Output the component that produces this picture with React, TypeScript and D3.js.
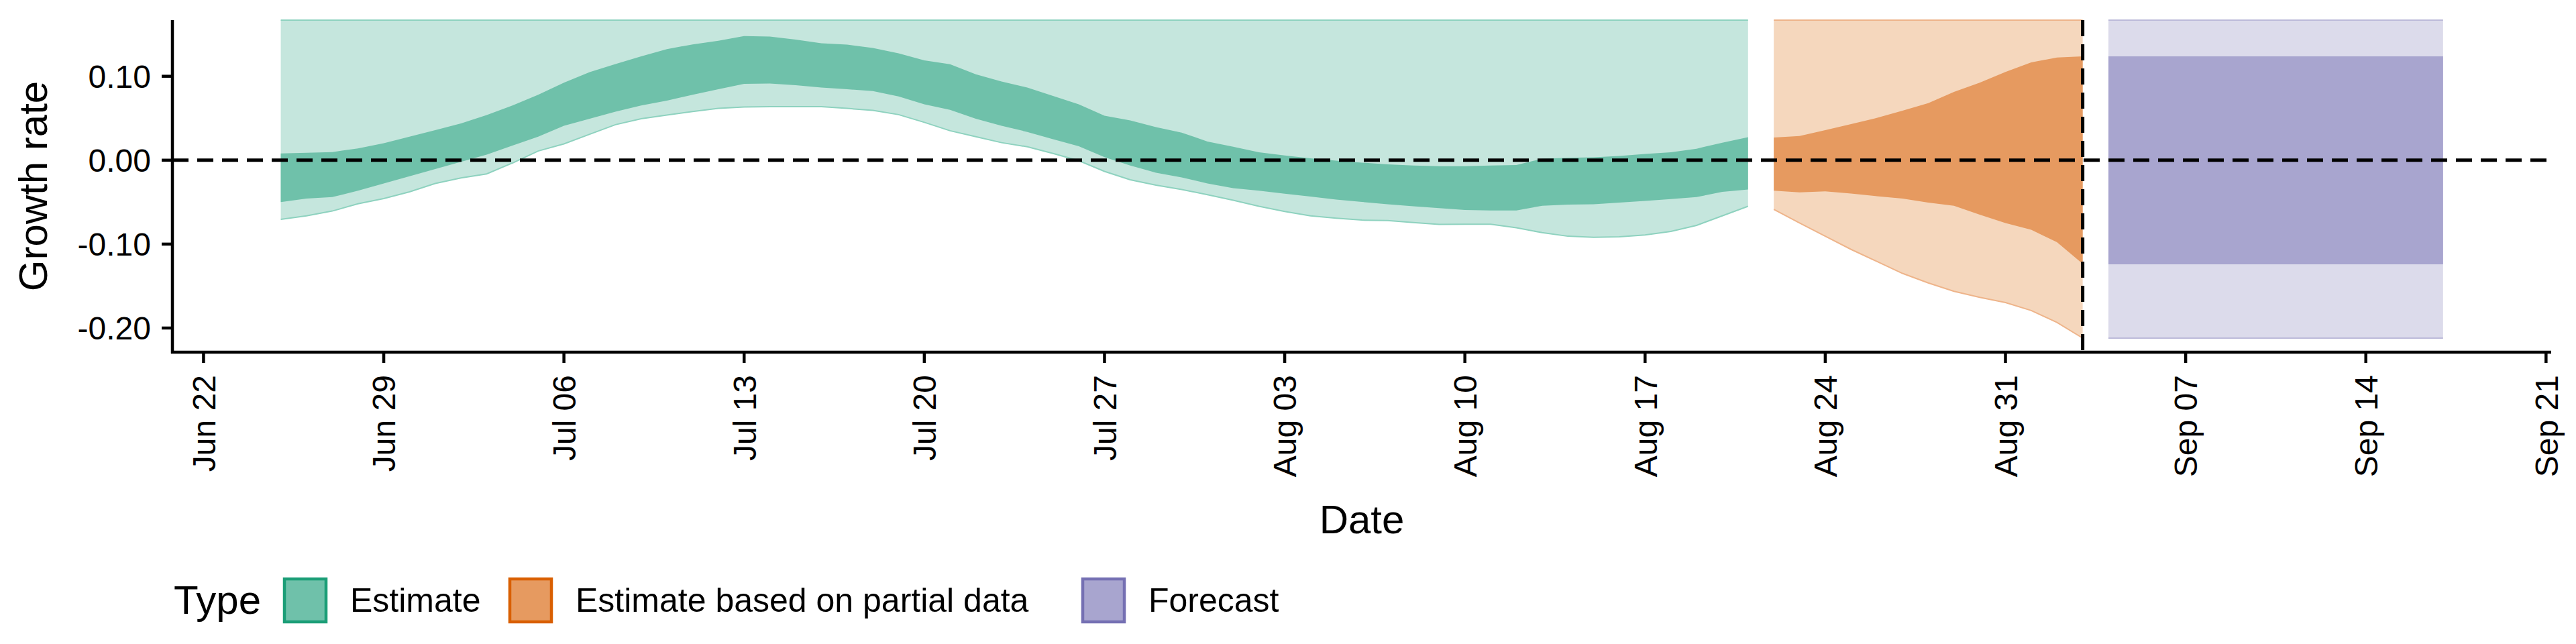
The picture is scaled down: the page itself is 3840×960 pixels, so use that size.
import React from "react";
import * as d3 from "d3";

// Days counted from 2020-06-22
const estDays = d3.range(3, 61);
const estInnerUpper = [.008,.0089,.0097,.014,.0203,.028,.0357,.0437,.0537,.0651,.078,.0923,.105,.1146,.1237,.1323,.138,.1423,.148,.1474,.1437,.1394,.1377,.1337,
  .1274,.1189,.1143,.1023,.0937,.0866,.0766,.0666,.0529,.0474,.0394,.0329,.0223,.016,.0094,.0057,.0023,-.0006,-.0029,-.0049,-.0063,-.0071,-.0071,-.0063,-.0057,.0017,.0029,.0034,.0051,.0074,.0094,.0137,.0209,.0274];
const estInnerLower = [-.05,-.0457,-.044,-.0363,-.0277,-.0191,-.0106,-.002,.0066,.0174,.028,.0409,.0494,.0577,.0651,.0709,.078,.0846,.0909,.0914,.0894,.0866,.0846,.0823,
  .076,.0666,.06,.0494,.0409,.0337,.0251,.0166,.0037,-.0063,-.0149,-.0206,-.0277,-.0334,-.0363,-.04,-.0434,-.0469,-.0497,-.0526,-.0549,-.0571,-.0594,-.06,-.06,-.0543,-.0529,-.0526,-.0506,-.0486,-.0463,-.044,-.0377,-.0349];
const estOuterLower = [-.0706,-.0663,-.0606,-.052,-.0457,-.0377,-.0277,-.0211,-.0163,-.0034,.0109,.0194,.0309,.0423,.0494,.0537,.058,.0617,.0634,.0637,.0637,.0637,.0617,.0594,
  .0543,.0451,.0351,.028,.0209,.016,.008,-.0006,-.0134,-.0234,-.0297,-.0349,-.0411,-.0477,-.0549,-.0611,-.0663,-.0691,-.0714,-.072,-.0743,-.0766,-.0763,-.0763,-.0806,-.0863,-.0906,-.092,-.0914,-.0891,-.0849,-.0777,-.0663,-.0549];
const estOuterUpper = 0.167;

const partDays = d3.range(61, 74);
const partInnerUpper = [.0271,.0289,.0357,.0429,.0503,.0589,.068,.0814,.0923,.1051,.1166,.1223,.1237];
const partInnerLower = [-.0363,-.0383,-.0371,-.0397,-.0429,-.0457,-.0506,-.0543,-.0649,-.0749,-.0829,-.0977,-.1234];
const partOuterLower = [-.0586,-.0749,-.0906,-.1063,-.1206,-.1349,-.1463,-.1563,-.1634,-.1697,-.1791,-.1934,-.212];
const partOuterUpper = 0.167;

const fcDays = [74, 87];
const fcInner = [-0.124, 0.1237];
const fcOuter = [-0.212, 0.167];

const cutoffDay = 73;
const yTicks = [0.1, 0, -0.1, -0.2];
const xTickDays = d3.range(0, 92, 7);
const legendLabels = ["Estimate", "Estimate based on partial data", "Forecast"];
const legendBorder = ["#1b9e77", "#d95f02", "#7570b3"];
const innerColors = ["#6fc1aa", "#e69a60", "#a8a5cf"];
const outerColors = ["#c5e6dd", "#f5d7bd", "#dcdbeb"];
const outerEdges = ["#8ed2bf", "#eeb48a", "#bcbad9"];

const base = Date.UTC(2020, 5, 22);
const day = (d: number) => new Date(base + d * 86400000);

export default function App() {
  const W = 3840, H = 960;
  const L = 257, R = 3803, T = 30, B = 525;
  const x = d3.scaleUtc().domain([day(-1.21), day(91.2)]).range([L, R]);
  const y = d3.scaleLinear().domain([-0.2288, 0.1669]).range([B, T]);
  const fmt = d3.utcFormat("%b %d");
  const font = "Liberation Sans, Arial, sans-serif";

  const band = (days: number[], lo: (i: number) => number, hi: (i: number) => number) =>
    d3.area<number>().x((d) => x(day(d))).y0((_, i) => y(lo(i))).y1((_, i) => y(hi(i)))(days) || "";
  const line = (days: number[], v: (i: number) => number) =>
    d3.line<number>().x((d) => x(day(d))).y((_, i) => y(v(i)))(days) || "";

  const segs = [
    { days: estDays, ol: (i: number) => estOuterLower[i], ou: () => estOuterUpper, il: (i: number) => estInnerLower[i], iu: (i: number) => estInnerUpper[i] },
    { days: partDays, ol: (i: number) => partOuterLower[i], ou: () => partOuterUpper, il: (i: number) => partInnerLower[i], iu: (i: number) => partInnerUpper[i] },
    { days: fcDays, ol: () => fcOuter[0], ou: () => fcOuter[1], il: () => fcInner[0], iu: () => fcInner[1] },
  ];

  return (
    <svg width={W} height={H} style={{ display: "block", position: "absolute", left: 0, top: 0 }} fontFamily={font}>
      <rect width={W} height={H} fill="#fff" />
      {segs.map((s, k) => (
        <g key={k}>
          <path d={band(s.days, s.ol, s.ou)} fill={outerColors[k]} />
          <path d={line(s.days, s.ol)} fill="none" stroke={outerEdges[k]} strokeWidth={2} />
          <path d={line(s.days, s.ou)} fill="none" stroke={outerEdges[k]} strokeWidth={2} />
          <path d={band(s.days, s.il, s.iu)} fill={innerColors[k]} />
        </g>
      ))}
      <line x1={L} x2={R} y1={y(0)} y2={y(0)} stroke="#000" strokeWidth={5} strokeDasharray="24 13" />
      <line x1={x(day(cutoffDay))} x2={x(day(cutoffDay))} y1={T} y2={B} stroke="#000" strokeWidth={5} strokeDasharray="24 12" />
      {/* axes */}
      <line x1={L} x2={L} y1={T} y2={B + 2} stroke="#000" strokeWidth={4.5} />
      <line x1={L - 2} x2={R} y1={B} y2={B} stroke="#000" strokeWidth={4.5} />
      {yTicks.map((t) => (
        <g key={t}>
          <line x1={L - 16} x2={L} y1={y(t)} y2={y(t)} stroke="#000" strokeWidth={4.5} />
          <text x={225} y={y(t)} dy="0.36em" textAnchor="end" fontSize={48}>{t.toFixed(2)}</text>
        </g>
      ))}
      {xTickDays.map((d) => (
        <g key={d} transform={`translate(${x(day(d))},0)`}>
          <line y1={B} y2={B + 16} stroke="#000" strokeWidth={4.5} />
          <text transform={`translate(0,${B + 34}) rotate(-90)`} dy="0.36em" textAnchor="end" fontSize={48}>{fmt(day(d))}</text>
        </g>
      ))}
      <text transform={`translate(70,${(T + B) / 2}) rotate(-90)`} textAnchor="middle" fontSize={60}>Growth rate</text>
      <text x={(L + R) / 2} y={795} textAnchor="middle" fontSize={60}>Date</text>
      {/* legend */}
      <text x={259} y={915} fontSize={60}>Type</text>
      {legendLabels.map((lab, k) => {
        const kx = [424, 760, 1614][k];
        return (
          <g key={lab}>
            <rect x={kx} y={863} width={62} height={64} fill={innerColors[k]} stroke={legendBorder[k]} strokeWidth={4.5} />
            <text x={kx + 98} y={912} fontSize={50}>{lab}</text>
          </g>
        );
      })}
    </svg>
  );
}
